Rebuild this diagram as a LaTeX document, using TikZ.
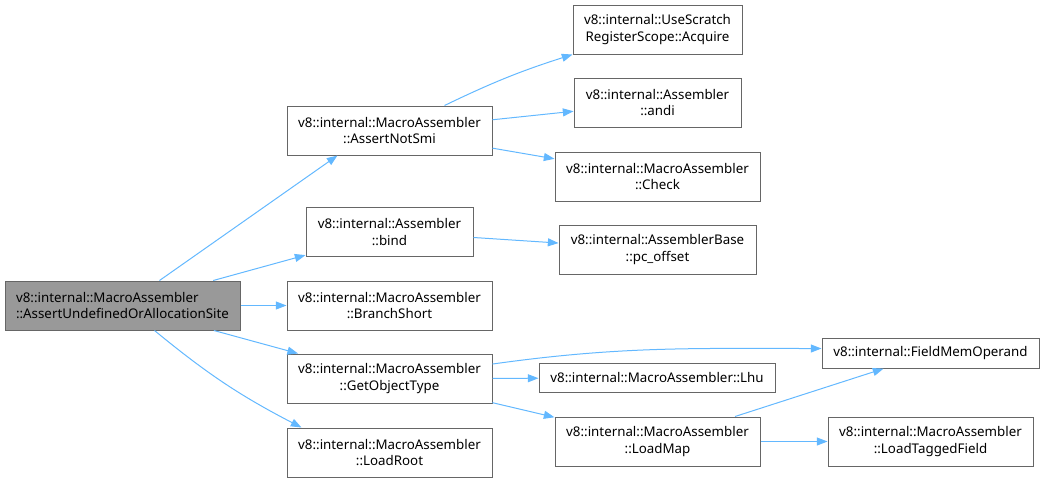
\documentclass[tikz,border=0pt]{standalone}
\usepackage{fontspec}
\setmainfont{Noto Sans}
\usepackage{tikz}
\usetikzlibrary{arrows.meta,positioning,calc}
\definecolor{EdgeBlue}{HTML}{63B8FF}
\definecolor{BoxLine}{HTML}{666666}
\definecolor{RootFill}{HTML}{999999}

\begin{document}
\begin{tikzpicture}[x=0.75pt,y=-0.75pt,font=\fontsize{10pt}{12.5pt}\selectfont,
  fn/.style={draw=BoxLine,fill=white,line width=0.75pt,rectangle,align=center,inner sep=0pt,minimum height=36.75pt},
  fn1/.style={fn,minimum height=22pt},
  e/.style={-{Triangle[length=8pt,width=6pt]},line width=0.75pt,EdgeBlue}]
  \useasboundingbox (0,0) rectangle (1044,482);
  % caller
  \node[fn,fill=RootFill,align=left,minimum width=176.25pt] (root) at (122.5,305.5) {v8::internal::MacroAssembler\\::AssertUndefinedOrAllocationSite};
  % direct callees
  \node[fn,minimum width=153.75pt] (ans)  at (389.5,130.5) {v8::internal::MacroAssembler\\::AssertNotSmi};
  \node[fn,minimum width=125.25pt] (bind) at (389.5,232)   {v8::internal::Assembler\\::bind};
  \node[fn,minimum width=153.75pt] (bsh)  at (389.5,305.5) {v8::internal::MacroAssembler\\::BranchShort};
  \node[fn,minimum width=153.75pt] (got)  at (389.5,378.5) {v8::internal::MacroAssembler\\::GetObjectType};
  \node[fn,minimum width=153.75pt] (lrt)  at (389.5,452.5) {v8::internal::MacroAssembler\\::LoadRoot};
  % second level
  \node[fn,minimum width=126.75pt] (acq)  at (657.5,29.5)  {v8::internal::UseScratch\\RegisterScope::Acquire};
  \node[fn,minimum width=125.25pt] (andi) at (657.5,102.5) {v8::internal::Assembler\\::andi};
  \node[fn,minimum width=153.75pt] (chk)  at (657.5,176.5) {v8::internal::MacroAssembler\\::Check};
  \node[fn,minimum width=147.75pt] (pco)  at (657.5,249.5) {v8::internal::AssemblerBase\\::pc\_offset};
  \node[fn1,minimum width=177pt]   (lhu)  at (657,378)     {v8::internal::MacroAssembler::Lhu};
  \node[fn,minimum width=153.75pt] (lmap) at (657.5,441.5) {v8::internal::MacroAssembler\\::LoadMap};
  % third level
  \node[fn1,minimum width=162.75pt] (fmo) at (930.5,353.5) {v8::internal::FieldMemOperand};
  \node[fn,minimum width=153.75pt]  (ltf) at (930.5,441.5) {v8::internal::MacroAssembler\\::LoadTaggedField};

  \draw[e] ($(root.north west)+(155,0)$) -- ($(ans.south west)+(51,0)$);
  \draw[e] (root) -- (bind);
  \draw[e] (root) -- (bsh);
  \draw[e] (root) -- (got);
  \draw[e] ($(root.south west)+(150,0)$) to[bend right=6] ($(lrt.north west)+(15,0)$);
  \draw[e] ($(ans.north west)+(158,0)$) to[bend left=4] (acq.south west);
  \draw[e] (ans) -- (andi);
  \draw[e] (ans) -- (chk);
  \draw[e] (bind) -- (pco);
  \draw[e] (got) to[out=8,in=180] ($(fmo.west)+(0,-5)$);
  \draw[e] (got) -- (lhu);
  \draw[e] (got) -- (lmap);
  \draw[e] (lmap) -- (fmo);
  \draw[e] (lmap) -- (ltf);
\end{tikzpicture}
\end{document}
